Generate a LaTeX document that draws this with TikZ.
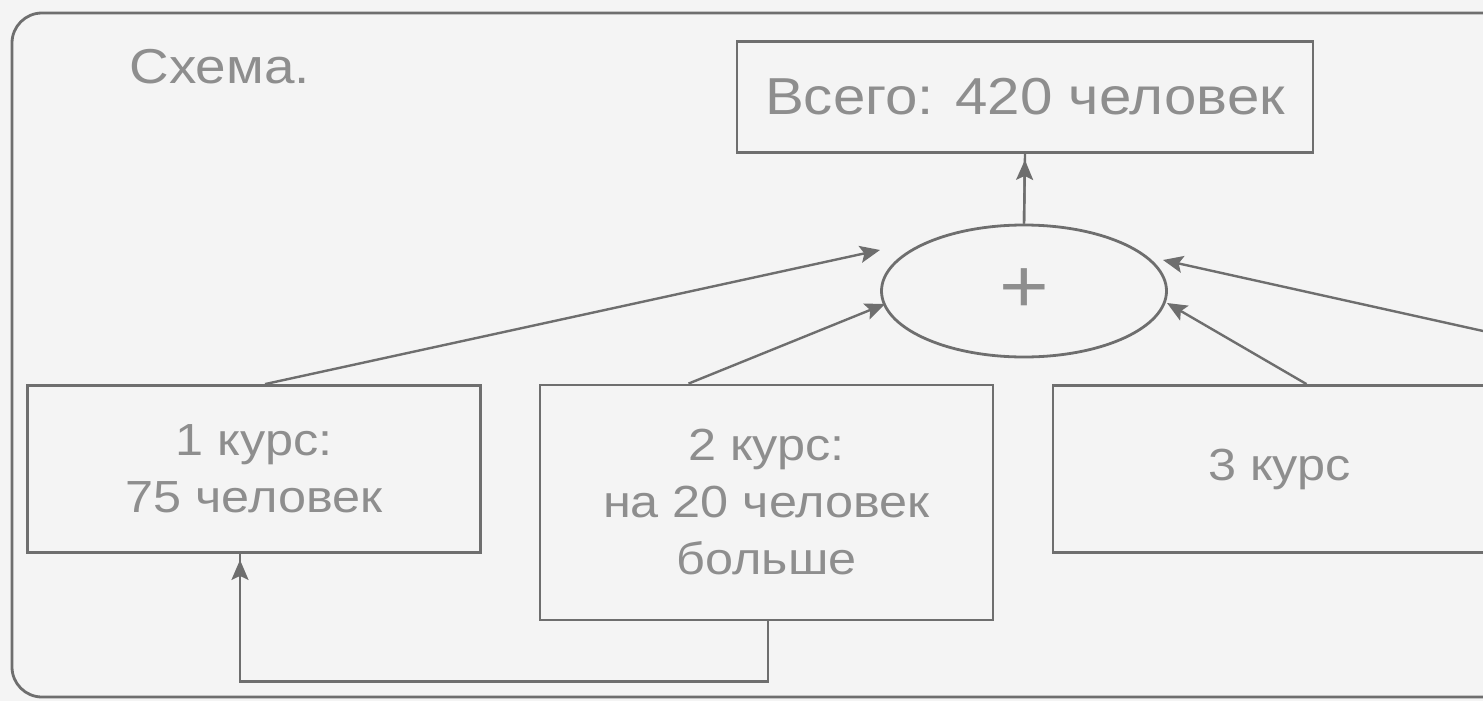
\documentclass[tikz,border=0pt]{standalone}
\usepackage{fontspec}
\setmainfont{Liberation Sans}[FakeStretch=1.12]
\usetikzlibrary{arrows.meta,shapes.geometric,calc}
\definecolor{ln}{HTML}{6E6E6E}
\definecolor{tx}{HTML}{8E8E8E}
\definecolor{bg}{HTML}{F4F4F4}
\tikzset{
  box/.style={draw=ln, line width=2.8pt, rectangle, inner sep=0pt, text=tx, align=center,
    font=\fontsize{45}{57}\selectfont},
  conn/.style={draw=ln, line width=2.4pt},
  tip/.style={-{Stealth[length=20pt,width=17pt,inset=4pt]}},
}
\begin{document}
\begin{tikzpicture}[x=1pt,y=-1pt]
\useasboundingbox (0,0) rectangle (1483,701);
\fill[bg] (0,0) rectangle (1483,701);
\draw[ln, line width=2.8pt, rounded corners=30pt] (1700,13) -- (12,13) -- (12,697) -- (1700,697);

\node[text=tx, font=\fontsize{49}{60}\selectfont, anchor=west] (title) at (126,67) {Схема.};

\node[box, minimum width=576pt, minimum height=111pt, font=\fontsize{52}{60}\selectfont] (total) at (1025,97) {Всего: 420 человек};
\node[draw=ln, line width=2.8pt, ellipse, minimum width=285pt, minimum height=132pt, inner sep=0pt,
  text=tx, font=\fontsize{76}{76}\selectfont] (sum) at (1024,291) {+};

\node[box, minimum width=453pt, minimum height=167pt] (b1) at (254,469) {1 курс:\\75 человек};
\node[box, minimum width=453pt, minimum height=235pt] (b2) at (766.5,502.5) {2 курс:\\на 20 человек\\больше};
\node[box, minimum width=453pt, minimum height=167pt] (b3) at (1279.5,469) {3 курс};
\coordinate (b4) at (1740,388);

% sum -> total
\draw[conn] (sum.north) -- (total.south);
\draw[conn, tip, shorten >=6pt] (sum.north) -- (total.south);

% boxes -> sum
\draw[conn, tip] ($(b1.north)+(11,0)$) -- ($(sum.center)+(-144,-41)$);
\draw[conn, tip] ($(b2.north)+(-78,0)$) -- ($(sum.center)+(-139,13)$);
\draw[conn, tip] ($(b3.north)+(27,0)$) -- ($(sum.center)+(143,12)$);
\draw[conn, tip] (b4) -- ($(sum.center)+(139,-31)$);

% b2 -> b1
\draw[conn] ($(b2.south)+(1.5,0)$) -- ++(0,60) -| ($(b1.south)+(-14,0)$);
\draw[conn, tip, shorten >=6pt] ($(b1.south)+(-14,60)$) -- ($(b1.south)+(-14,0)$);
\end{tikzpicture}
\end{document}
